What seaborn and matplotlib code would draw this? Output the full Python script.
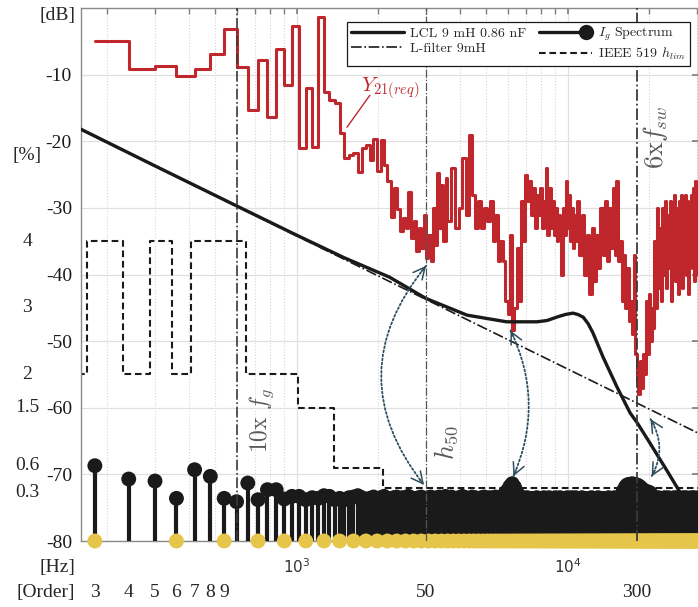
import numpy as np
import pandas as pd
import seaborn as sns
import matplotlib.pyplot as plt
from matplotlib.lines import Line2D
from matplotlib.patches import FancyArrowPatch
from matplotlib.legend_handler import HandlerLine2D
from matplotlib.transforms import blended_transform_factory
from matplotlib.ticker import LogLocator, NullFormatter

F0 = 60  # grid frequency [Hz]

# harmonic orders (dense part thinned out, it is a solid mass anyway)
orders = list(range(3, 61)) + list(range(62, 179, 2)) + list(range(180, 509, 4))

# Y21(req) [dB], one value per order above
y21_db = [
    -4.9, -9.2, -8.7, -10.2, -9.2, -6.9, -3.2, -8.8,
    -15.3, -7.8, -16.3, -6.1, -11.6, -2.7, -21.0, -12.0, -20.9, -1.4,
    -12.6, -13.8, -14.3, -18.8, -22.5, -22.0, -21.8, -24.6, -21.0, -20.5,
    -22.8, -19.6, -24.5, -19.8, -23.5, -26.0, -31.4, -27.0, -30.2, -33.5,
    -31.5, -33.0, -27.6, -34.5, -32.0, -36.5, -33.0, -36.0, -31.0, -37.5,
    -34.0, -37.9, -30.0, -35.5, -24.8, -33.0, -26.5, -35.0, -25.5, -32.0,
    # 62..178 step 2
    -24, -33, -30, -22.5, -31, -19, -28, -33, -29, -33,
    -30, -32, -29, -35, -31, -38, -35, -38, -44, -46,
    -34, -48.3, -45, -36, -44, -29, -35, -25, -29, -26,
    -31, -27, -33, -28, -31, -27, -33, -29, -24, -34,
    -27, -33, -29, -34, -30, -35, -31, -33, -40, -30,
    -34, -26, -33, -28, -35, -30, -36, -31, -35,
    # 180..508 step 4
    -29, -37, -31, -40, -34, -43, -33, -41, -34, -39,
    -30, -37, -29, -38, -30, -36, -27, -37, -26, -38,
    -35, -44, -37, -45, -39, -47, -44, -49, -37, -52,
    -56, -58, -53, -57, -52, -55, -44, -52, -43, -50,
    -45, -48, -35, -45, -30, -42, -33, -44, -30, -40,
    -29, -42, -31, -39, -29, -44, -30, -38, -28, -41,
    -30, -43, -29, -39, -28, -42, -30, -38, -28, -40,
    -29, -43, -30, -37, -28, -39, -27, -41, -26, -38,
    -28, -40, -29,
]

# grid current spectrum Ig [dB]
spec_db = [
    -68.7, -70.7, -71.0, -73.6, -69.3, -70.3, -73.6, -74.1,
    -71.3, -73.8, -72.3, -72.3, -73.7, -73.3, -73.3, -73.8, -73.5, -73.6,
    -73.2, -73.3, -73.8, -73.6, -73.8, -73.5, -73.4, -73.2, -73.5, -73.8,
    -73.6, -73.4, -73.7, -73.5, -73.3, -73.6, -73.8, -73.5, -73.4, -73.7,
    -73.5, -73.6, -73.3, -73.5, -73.8, -73.6, -73.5, -73.4, -73.7, -73.6,
    -73.5, -73.4, -73.6, -73.8, -73.5, -73.4, -73.6, -73.5, -73.3, -73.5,
    # 62..178 step 2
    -73.4, -73.6, -73.5, -73.3, -73.5, -73.6, -73.4, -73.5, -73.7, -73.5,
    -73.4, -73.6, -73.5, -73.6, -73.4, -73.5, -73.6, -73.4, -72.8, -72.4,
    -71.8, -71.4, -71.9, -72.6, -73.3, -73.6, -73.5, -73.7, -73.5, -73.6,
    -73.8, -73.6, -73.7, -73.5, -73.6, -73.8, -73.7, -73.5, -73.6, -73.7,
    -73.5, -73.6, -73.8, -73.6, -73.5, -73.7, -73.6, -73.5, -73.7, -73.6,
    -73.8, -73.6, -73.5, -73.7, -73.6, -73.5, -73.7, -73.6, -73.5,
    # 180..508 step 4
    -73.6, -73.7, -73.5, -73.6, -73.8, -73.6, -73.5, -73.7, -73.6, -73.5,
    -73.7, -73.6, -73.8, -73.6, -73.5, -73.7, -73.6, -73.5, -73.7, -73.6,
    -73.4, -73.0, -72.4, -71.9, -71.6, -71.5, -71.5, -71.4, -71.5, -71.5,
    -71.6, -71.7, -71.9, -72.1, -72.3, -72.5, -72.6, -72.6, -72.7, -72.8,
    -73.2, -73.5, -73.6, -73.7, -73.6, -73.5, -73.7, -73.6, -73.8, -73.6,
    -73.5, -73.7, -73.6, -73.5, -73.7, -73.6, -73.8, -73.6, -73.5, -73.7,
    -73.6, -73.5, -73.7, -73.6, -73.8, -73.6, -73.5, -73.7, -73.6, -73.5,
    -73.7, -73.6, -73.8, -73.6, -73.5, -73.7, -73.6, -73.5, -73.7, -73.6,
    -73.8, -73.6, -73.5,
]

triplen_orders = list(range(3, 505, 3))

# filter magnitude responses
lcl_hz = [160, 300, 600, 1000, 1500, 2200, 3000, 4250, 5950, 7700, 8400, 9100,
          9800, 10450, 10900, 11400, 11900, 12400, 13500, 15200, 17000, 18000,
          20100, 23200, 26600, 30240]
lcl_db = [-18.2, -23.7, -29.7, -34.1, -37.5, -40.4, -43.6, -46.1, -47.1, -47.1,
          -46.9, -46.4, -46.0, -45.8, -46.0, -46.4, -47.4, -48.8, -52.4, -56.9,
          -60.8, -62.2, -65.3, -69.4, -73.4, -76.5]
lfilt_hz = [160, 30240]
lfilt_db = [-18.3, -63.8]

# IEEE 519 limit, step edges in harmonic order
ieee_order = [2.6, 2.8, 3.8, 4.8, 5.8, 6.8, 10.8, 16.8, 22.8, 34.8, 520]
ieee_db = [-55, -35, -55, -35, -55, -35, -55, -60, -69, -72, -72]

pct_labels = ['4', '3', '2', '1.5', '0.6', '0.3']
pct_db = [-35, -45, -55, -60, -68.6, -72.7]
order_ticks = [3, 4, 5, 6, 7, 8, 9, 50, 300]

df = pd.DataFrame({'hz': np.array(orders) * F0, 'y21': y21_db, 'spec': spec_db})
df_lcl = pd.DataFrame({'hz': lcl_hz, 'db': lcl_db})

sns.set_theme(style='white')
plt.rcParams['font.family'] = ['Liberation Serif', 'DejaVu Serif']
plt.rcParams['mathtext.fontset'] = 'cm'

BLACK = '#1a1a1a'
RED = '#c0272d'
YELLOW = '#e6c64a'
ARROW = '#2d4f5f'
GREY_TXT = '#5a5a5a'


class EndMarkerHandler(HandlerLine2D):
    """stem legend entry: line with one marker at the right end"""
    def create_artists(self, legend, orig_handle, xdescent, ydescent, width, height,
                       fontsize, trans):
        y = (height - ydescent) / 2
        x0, x1 = -xdescent, width - xdescent
        line = Line2D([x0, x1], [y, y], color=orig_handle.get_color(),
                      lw=orig_handle.get_linewidth(), transform=trans)
        dot = Line2D([x1 - 4], [y], ls='none', marker='o', color=orig_handle.get_color(),
                     markersize=orig_handle.get_markersize(), transform=trans)
        return [line, dot]


fig = plt.figure(figsize=(6.98, 6.07), dpi=100)
ax = fig.add_axes([81 / 698, 66 / 607, 617 / 698, 533 / 607])
ax.set_xscale('log')
ax.set_xlim(160, 30240)
ax.set_ylim(-80, 0)

ax.grid(True, which='major', color='#e0e0e0', lw=0.9)
ax.grid(True, which='minor', axis='x', color='#d6d6d6', lw=0.8, ls=':')
ax.set_axisbelow(True)

# IEEE limit
sns.lineplot(x=np.array(ieee_order) * F0, y=ieee_db, drawstyle='steps-post',
             color=BLACK, lw=1.5, linestyle=(0, (3.2, 1.8)), estimator=None,
             sort=False, legend=False, ax=ax, zorder=2)

# Y21(req)
sns.lineplot(data=df, x='hz', y='y21', drawstyle='steps-post', color=RED, lw=2.2,
             estimator=None, sort=False, legend=False, ax=ax, zorder=3)

# filters
sns.lineplot(x=lfilt_hz, y=lfilt_db, color=BLACK, lw=1.2, linestyle='-.',
             estimator=None, legend=False, ax=ax, zorder=3.4)
sns.lineplot(data=df_lcl, x='hz', y='db', color=BLACK, lw=2.4,
             estimator=None, sort=False, legend=False, ax=ax, zorder=3.5)

# spectrum stems
ax.vlines(df['hz'], -80, df['spec'], colors=BLACK, lw=3.0, zorder=4)
sns.scatterplot(data=df, x='hz', y='spec', s=115, color=BLACK, edgecolor='none',
                legend=False, ax=ax, zorder=5)
sns.scatterplot(x=np.array(triplen_orders) * F0, y=[-80] * len(triplen_orders),
                s=115, color=YELLOW, edgecolor='none', legend=False, ax=ax,
                zorder=6, clip_on=False)

# marker lines
ax.axvline(10 * F0, color='#3a3a3a', lw=1.2, ls='-.', zorder=7)
ax.axvline(50 * F0, color='#555555', lw=0.9, ls='-.', zorder=7)
ax.axvline(300 * F0, color='#3a3a3a', lw=1.3, ls='-.', zorder=7)

ax.text(745, -61.9, r'10x $f_g$', rotation=90, ha='center', va='center',
        color=GREY_TXT, fontsize=17, family='cmr10', zorder=8)
ax.text(3550, -65.2, r'$h_{50}$', rotation=90, ha='center', va='center',
        color=GREY_TXT, fontsize=19, zorder=8)
ax.text(21000, -19.4, r'6x$f_{sw}$', rotation=90, ha='center', va='center',
        color=GREY_TXT, fontsize=19, family='cmr10', zorder=8)
ax.text(2207, -12.0, r'$Y_{21(req)}$', ha='center', va='center',
        color=RED, fontsize=15, zorder=8)
ax.plot([1532, 1862], [-17.9, -13.1], color=RED, lw=1.0, zorder=8)


def curved_arrow(p_top, p_bot, rad):
    ax.add_patch(FancyArrowPatch(p_top, p_bot, connectionstyle=f'arc3,rad={rad}',
                                 arrowstyle='-', linestyle=(0, (1, 1.3)), lw=1.3,
                                 color=ARROW, shrinkA=0, shrinkB=0, zorder=9))
    a = ax.transData.transform(p_top)
    b = ax.transData.transform(p_bot)
    d = b - a
    c = (a + b) / 2 + rad * np.array([d[1], -d[0]])
    for end, pt in ((a, p_top), (b, p_bot)):
        u = (c - end) / np.hypot(*(c - end))
        ax.annotate('', xy=pt, xytext=(u[0] * 7, u[1] * 7), textcoords='offset pixels',
                    arrowprops=dict(arrowstyle='->,head_length=0.7,head_width=0.35',
                                    lw=1.1, color=ARROW, shrinkA=0, shrinkB=0),
                    zorder=9)


curved_arrow((3000, -38.7), (2950, -71.6), 0.4)
curved_arrow((6150, -48.4), (6300, -70.3), -0.23)
curved_arrow((20200, -61.7), (20400, -70.3), -0.29)

# axes styling
ax.set_xlabel('')
ax.set_ylabel('')
ax.set_yticks(range(-80, -9, 10))
ax.set_yticklabels([str(v) for v in range(-80, -9, 10)], fontsize=14)
ax.set_xticks([1e3, 1e4], labels=[r'$10^{3}$', r'$10^{4}$'], fontsize=11,
              fontfamily='DejaVu Sans', math_fontfamily='dejavusans', color='#333333')
ax.xaxis.set_minor_locator(LogLocator(base=10, subs=np.arange(2, 10)))
ax.xaxis.set_minor_formatter(NullFormatter())
ax.tick_params(axis='both', which='both', direction='in', top=True, right=True,
               color='#808080', length=4)
ax.tick_params(axis='y', pad=6.5, labelcolor='#1a1a1a')
ax.tick_params(axis='x', which='major', pad=12)
for s in ax.spines.values():
    s.set_color('#8a8a8a')
    s.set_linewidth(1.0)

ty = blended_transform_factory(ax.transAxes, ax.transData)
tx = blended_transform_factory(ax.transData, ax.transAxes)
ax.text(-0.0097, -1.2, '[dB]', transform=ty, ha='right', va='center', fontsize=14)
ax.text(-0.0875, -22.1, '[%]', transform=ty, ha='center', va='center', fontsize=14)
for lab, v in zip(pct_labels, pct_db):
    ax.text(-0.0875, v, lab, transform=ty, ha='center', va='center', fontsize=14)
ax.text(-0.0097, -0.0488, '[Hz]', transform=ax.transAxes, ha='right', va='center', fontsize=14)
ax.text(-0.0097, -0.0957, '[Order]', transform=ax.transAxes, ha='right', va='center', fontsize=14)
for o in order_ticks:
    ax.text(o * F0, -0.0957, str(o), transform=tx, ha='center', va='center', fontsize=14)

h_lcl = Line2D([], [], color=BLACK, lw=2.4)
h_l = Line2D([], [], color=BLACK, lw=1.2, ls='-.')
h_ig = Line2D([], [], color=BLACK, lw=2.4, marker='o', markersize=10)
h_ieee = Line2D([], [], color=BLACK, lw=1.5, ls=(0, (3.2, 1.8)))
labels = ['LCL 9 mH 0.86 nF', 'L-filter 9mH', r'$I_g$ Spectrum', r'IEEE 519 $h_{lim}$']
leg = ax.legend([h_lcl, h_l, h_ig, h_ieee], labels, ncol=2, loc='upper right',
                bbox_to_anchor=(0.987, 0.974), borderaxespad=0,
                handler_map={h_ig: EndMarkerHandler()},
                prop={'family': 'cmr10', 'size': 10}, frameon=True,
                fancybox=False, edgecolor=BLACK, framealpha=1, handlelength=3.8,
                handletextpad=0.45, columnspacing=0.9, borderpad=0.3, labelspacing=0.15)
leg.get_frame().set_linewidth(0.9)
leg.set_zorder(10)

fig.savefig('out.png', dpi=100)
